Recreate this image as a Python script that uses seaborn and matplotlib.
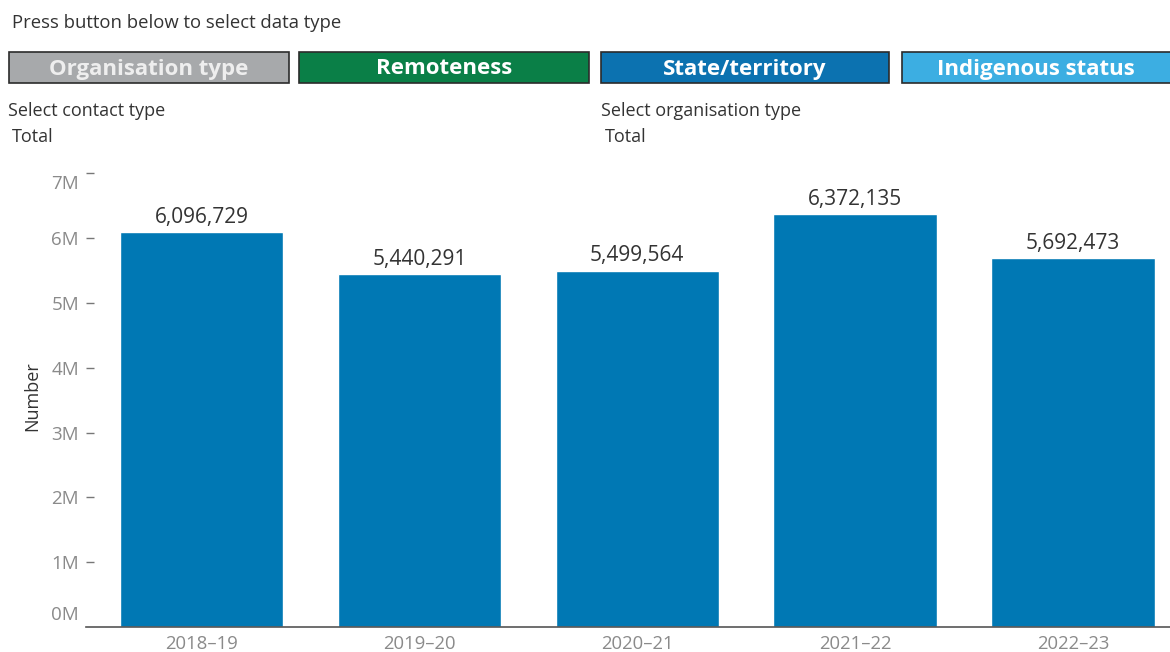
import matplotlib
matplotlib.use("Agg")
import matplotlib.pyplot as plt
from matplotlib.patches import Rectangle
from matplotlib.transforms import ScaledTranslation
import seaborn as sns
import pandas as pd

# Contacts per financial year (total)
years = ["2018–19", "2019–20", "2020–21", "2021–22", "2022–23"]
contacts = [6096729, 5440291, 5499564, 6372135, 5692473]

# Selector buttons along the top
button_labels = ["Organisation type", "Remoteness", "State/territory", "Indigenous status"]
button_colors = ["#A7A9AB", "#0A7F47", "#0C72B0", "#3CAEE2"]

y_ticks = [0, 1, 2, 3, 4, 5, 6, 7]
y_tick_labels = [f"{v}M" for v in y_ticks]

sns.set_theme(style="white")
plt.rcParams["font.family"] = ["Open Sans", "DejaVu Sans"]

W, H = 1170, 652
fig = plt.figure(figsize=(W / 100, H / 100), dpi=100)

def fx(px):
    return px / W

def fy(py):
    return 1 - py / H

TEXT = "#333333"
GREY = "#8a8a8a"
SMALL = 13

# Header texts
fig.text(fx(12), fy(23), "Press button below to select data type", fontsize=13.3,
         color=TEXT, va="center", ha="left")

# Buttons
btn_x = [(9, 289), (299, 589), (601, 889), (902, 1172)]
for (x0, x1), lab, col in zip(btn_x, button_labels, button_colors):
    fig.patches.append(Rectangle((fx(x0), fy(83)), fx(x1) - fx(x0), fy(52) - fy(83),
                                 transform=fig.transFigure, facecolor=col,
                                 edgecolor="#2b2b2b", linewidth=1.2))
    txt_col = "#EEEEEE" if lab == "Organisation type" else "white"
    fig.text(fx((x0 + min(x1, 1170)) / 2), fy(69), lab, fontsize=16, fontweight="bold",
             color=txt_col, ha="center", va="center")

fig.text(fx(8), fy(111), "Select contact type", fontsize=SMALL, color=TEXT, va="center")
fig.text(fx(12), fy(137), "Total", fontsize=SMALL, color=TEXT, va="center")
fig.text(fx(601), fy(111), "Select organisation type", fontsize=SMALL, color=TEXT, va="center")
fig.text(fx(605), fy(137), "Total", fontsize=SMALL, color=TEXT, va="center")

# Chart area
ax = fig.add_axes([fx(86), fy(627), 1 - fx(86), fy(165) - fy(627)])
df = pd.DataFrame({"year": years, "contacts": contacts})
sns.barplot(data=df, x="year", y="contacts", color="#0078B4", saturation=1,
            width=0.75, ax=ax)

for bar, v in zip(ax.patches, contacts):
    ax.annotate(f"{v:,}", (bar.get_x() + bar.get_width() / 2, v),
                xytext=(0, 3), textcoords="offset points", ha="center", va="bottom",
                fontsize=15, color=TEXT)

ax.set_xlim(-0.53, 4.445)
ax.set_ylim(0, 7.13e6)
ax.set_yticks([v * 1e6 for v in y_ticks])
ax.set_yticklabels(y_tick_labels)
ax.set_xlabel("")
ax.set_ylabel("Number", fontsize=13, color=TEXT, labelpad=7)

for s in ["top", "right", "left"]:
    ax.spines[s].set_visible(False)
ax.spines["bottom"].set_color("#555555")
ax.spines["bottom"].set_linewidth(1.2)

ax.tick_params(axis="y", direction="in", length=6, width=1, color="#777777",
               labelcolor=GREY, labelsize=13.5, pad=5, left=True)
ax.tick_params(axis="x", bottom=False, labelcolor=GREY, labelsize=13.3, pad=0)

# End labels: 0M sits above the baseline, 7M nudged down
ylabels = ax.get_yticklabels()
ylabels[0].set_transform(ylabels[0].get_transform() +
                         ScaledTranslation(0, 14 / 100, fig.dpi_scale_trans))
ylabels[-1].set_transform(ylabels[-1].get_transform() +
                          ScaledTranslation(0, -9 / 100, fig.dpi_scale_trans))
ax.yaxis.get_major_ticks()[0].tick1line.set_visible(False)

fig.savefig("out.png", dpi=100)
